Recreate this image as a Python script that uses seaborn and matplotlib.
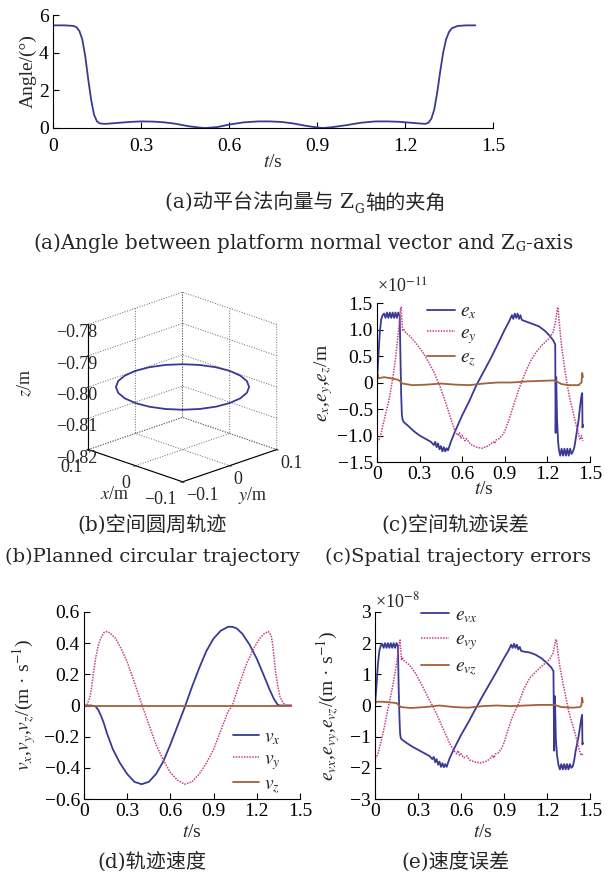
import numpy as np
import pandas as pd
import matplotlib
matplotlib.use("Agg")
import matplotlib.pyplot as plt
import seaborn as sns

# ---- (a) angle between platform normal and Z_G ----
t_a = [0, 0.04, 0.07, 0.08, 0.09, 0.10, 0.11, 0.12, 0.13, 0.14, 0.15, 0.16, 0.18, 0.22,
       0.26, 0.30, 0.34, 0.38, 0.42, 0.46, 0.50, 0.52, 0.56, 0.60, 0.65, 0.70, 0.74, 0.78,
       0.82, 0.86, 0.90, 0.92, 0.95, 1.00, 1.05, 1.10, 1.14, 1.18, 1.22, 1.25, 1.27, 1.28,
       1.29, 1.30, 1.31, 1.32, 1.33, 1.34, 1.35, 1.36, 1.38, 1.41, 1.44]
angle = [5.45, 5.45, 5.42, 5.35, 5.15, 4.7, 3.8, 2.6, 1.5, 0.7, 0.35, 0.24, 0.22, 0.27,
         0.32, 0.35, 0.34, 0.3, 0.22, 0.1, 0.02, 0.0, 0.05, 0.18, 0.3, 0.35, 0.35, 0.32,
         0.24, 0.12, 0.03, 0.0, 0.04, 0.15, 0.28, 0.35, 0.35, 0.33, 0.28, 0.24, 0.22, 0.28,
         0.5, 1.0, 1.9, 3.0, 4.0, 4.7, 5.1, 5.3, 5.42, 5.45, 5.45]

# ---- (b) planned circle ----
circ_x = [0.1, 0.0966, 0.0866, 0.0707, 0.05, 0.0259, 0.0, -0.0259, -0.05, -0.0707, -0.0866,
          -0.0966, -0.1, -0.0966, -0.0866, -0.0707, -0.05, -0.0259, 0.0, 0.0259, 0.05,
          0.0707, 0.0866, 0.0966, 0.1]
circ_y = [0.0, 0.0259, 0.05, 0.0707, 0.0866, 0.0966, 0.1, 0.0966, 0.0866, 0.0707, 0.05,
          0.0259, 0.0, -0.0259, -0.05, -0.0707, -0.0866, -0.0966, -0.1, -0.0966, -0.0866,
          -0.0707, -0.05, -0.0259, 0.0]
circ_z = [-0.80] * 25

# ---- (c) trajectory errors (x1e-11 m) ----
t_ex = [0, 0.01, 0.02, 0.03, 0.04, 0.05, 0.06, 0.07, 0.08, 0.09, 0.10, 0.11, 0.12, 0.13,
        0.14, 0.15, 0.16, 0.165, 0.17, 0.175, 0.18, 0.19, 0.22, 0.26, 0.30, 0.34, 0.38,
        0.40, 0.41, 0.42, 0.43, 0.44, 0.45, 0.46, 0.47, 0.48, 0.49, 0.50, 0.52, 0.55, 0.60,
        0.65, 0.70, 0.75, 0.80, 0.85, 0.90, 0.93, 0.95, 0.96, 0.97, 0.98, 0.99, 1.00, 1.01,
        1.02, 1.04, 1.07, 1.10, 1.14, 1.18, 1.21, 1.24, 1.255, 1.258, 1.262, 1.268, 1.275,
        1.28, 1.29, 1.30, 1.31, 1.32, 1.33, 1.34, 1.35, 1.36, 1.37, 1.38, 1.39, 1.40, 1.42,
        1.43, 1.44, 1.445, 1.447, 1.45]
ex = [0.0, 0.5, 0.95, 1.2, 1.27, 1.3, 1.22, 1.32, 1.22, 1.32, 1.22, 1.32, 1.22, 1.32,
      1.22, 1.32, 1.25, 0.5, -0.2, -0.6, -0.7, -0.75, -0.82, -0.92, -1.0, -1.06, -1.12,
      -1.18, -1.12, -1.22, -1.15, -1.26, -1.2, -1.3, -1.22, -1.3, -1.24, -1.28, -1.12, -0.92,
      -0.62, -0.35, -0.05, 0.2, 0.45, 0.72, 1.0, 1.15, 1.27, 1.2, 1.3, 1.22, 1.3, 1.2, 1.27,
      1.18, 1.16, 1.13, 1.1, 1.06, 0.98, 0.9, 0.8, 0.72, -0.95, 0.1, -0.7, -1.1,
      -1.25, -1.38, -1.25, -1.38, -1.25, -1.38, -1.25, -1.38, -1.25, -1.35, -1.3, -1.22,
      -1.05, -0.7, -0.45, -0.25, -0.2, -0.85, -0.8]
t_ey = [0, 0.01, 0.02, 0.03, 0.04, 0.06, 0.08, 0.09, 0.10, 0.11, 0.12, 0.13, 0.14, 0.15,
        0.16, 0.165, 0.17, 0.175, 0.18, 0.19, 0.20, 0.24, 0.28, 0.32, 0.36, 0.40, 0.44, 0.48,
        0.52, 0.55, 0.57, 0.58, 0.59, 0.60, 0.62, 0.63, 0.66, 0.70, 0.74, 0.78, 0.80, 0.82,
        0.83, 0.84, 0.86, 0.88, 0.90, 0.93, 0.96, 1.00, 1.02, 1.05, 1.08, 1.12, 1.16, 1.20,
        1.22, 1.24, 1.25, 1.26, 1.27, 1.275, 1.28, 1.29, 1.30, 1.32, 1.34, 1.36, 1.38, 1.40,
        1.42, 1.43, 1.44, 1.45]
ey = [-1.12, -1.1, -1.05, -0.95, -0.82, -0.6, -0.38, -0.25, -0.1, 0.07, 0.25, 0.45, 0.7,
      0.95, 1.2, 1.38, 1.42, 1.2, 0.98, 1.0, 0.95, 0.85, 0.72, 0.58, 0.4, 0.2, -0.05, -0.35,
      -0.68, -0.92, -1.0, -0.95, -1.05, -1.0, -1.1, -1.06, -1.17, -1.22, -1.24, -1.2, -1.16,
      -1.12, -1.15, -1.08, -1.06, -1.0, -0.92, -0.7, -0.44, -0.12, 0.02, 0.22, 0.4, 0.57,
      0.7, 0.8, 0.86, 0.95, 1.05, 1.2, 1.4, 1.42, 1.25, 0.95, 0.68, 0.3, -0.05, -0.33,
      -0.55, -0.78, -0.98, -1.08, -1.0, -1.1]
t_ez = [0, 0.005, 0.01, 0.05, 0.10, 0.15, 0.18, 0.25, 0.35, 0.45, 0.55, 0.65, 0.75, 0.85,
        0.95, 1.05, 1.15, 1.25, 1.30, 1.35, 1.42, 1.44, 1.445, 1.45]
ez = [0.02, 0.15, 0.08, 0.1, 0.08, 0.05, -0.02, -0.05, -0.04, -0.02, -0.04, -0.05, -0.02,
      0.0, 0.0, 0.02, 0.03, 0.04, -0.03, -0.05, -0.05, 0.0, 0.18, 0.1]

# ---- (d) trajectory velocity (m/s) ----
t_vx = [0, 0.05, 0.08, 0.10, 0.12, 0.14, 0.16, 0.20, 0.25, 0.30, 0.35, 0.40, 0.45, 0.50,
        0.55, 0.60, 0.65, 0.70, 0.75, 0.80, 0.85, 0.90, 0.95, 1.00, 1.03, 1.06, 1.10, 1.15,
        1.20, 1.25, 1.29, 1.32, 1.345, 1.36, 1.44]
vx = [0, 0, -0.005, -0.03, -0.07, -0.12, -0.18, -0.28, -0.37, -0.44, -0.49, -0.505, -0.49,
      -0.44, -0.36, -0.25, -0.13, -0.01, 0.12, 0.24, 0.35, 0.43, 0.48, 0.505, 0.505, 0.495,
      0.46, 0.39, 0.30, 0.19, 0.10, 0.04, 0.005, 0, 0]
t_vy = [0, 0.02, 0.04, 0.05, 0.065, 0.08, 0.10, 0.12, 0.14, 0.16, 0.18, 0.22, 0.26, 0.30,
        0.35, 0.40, 0.45, 0.50, 0.55, 0.60, 0.65, 0.70, 0.75, 0.80, 0.85, 0.90, 0.95, 1.00,
        1.03, 1.08, 1.13, 1.18, 1.22, 1.25, 1.28, 1.30, 1.31, 1.32, 1.33, 1.345, 1.36, 1.38,
        1.40, 1.44]
vy = [0, 0.005, 0.05, 0.1, 0.2, 0.3, 0.39, 0.44, 0.47, 0.475, 0.465, 0.43, 0.36, 0.28,
      0.15, 0.01, -0.12, -0.25, -0.35, -0.43, -0.48, -0.505, -0.49, -0.44, -0.37, -0.28,
      -0.16, -0.04, 0.0, 0.14, 0.27, 0.37, 0.43, 0.46, 0.475, 0.45, 0.39, 0.31, 0.22, 0.13,
      0.06, 0.02, 0.003, 0]
t_vz = [0, 0.5, 1.0, 1.44]
vz = [0, 0, 0, 0]

# ---- (e) velocity errors (x1e-8 m/s) ----
t_evx = [0, 0.01, 0.02, 0.03, 0.04, 0.05, 0.06, 0.07, 0.08, 0.09, 0.10, 0.11, 0.12, 0.13,
         0.14, 0.15, 0.16, 0.165, 0.17, 0.175, 0.18, 0.19, 0.22, 0.26, 0.30, 0.34, 0.38,
         0.40, 0.41, 0.42, 0.43, 0.44, 0.45, 0.46, 0.47, 0.48, 0.49, 0.50, 0.52, 0.55, 0.60,
         0.65, 0.70, 0.75, 0.80, 0.85, 0.90, 0.93, 0.95, 0.96, 0.97, 0.98, 0.99, 1.00, 1.01,
         1.02, 1.05, 1.08, 1.12, 1.16, 1.20, 1.23, 1.245, 1.25, 1.255, 1.262, 1.27, 1.28,
         1.29, 1.30, 1.31, 1.32, 1.33, 1.34, 1.35, 1.36, 1.37, 1.38, 1.39, 1.40, 1.42, 1.43,
         1.44, 1.445, 1.447, 1.45]
evx = [0.0, 0.6, 1.3, 1.75, 1.92, 1.98, 1.85, 2.0, 1.85, 2.0, 1.85, 2.0, 1.85, 2.0, 1.85,
       2.0, 1.9, 0.6, -0.3, -0.9, -1.05, -1.1, -1.2, -1.32, -1.42, -1.52, -1.62, -1.72,
       -1.65, -1.82, -1.72, -1.9, -1.8, -1.97, -1.85, -1.98, -1.88, -1.97, -1.7, -1.4, -0.95,
       -0.55, -0.12, 0.3, 0.7, 1.1, 1.52, 1.75, 1.95, 1.85, 1.98, 1.85, 1.95, 1.8, 1.88,
       1.75, 1.72, 1.7, 1.63, 1.52, 1.36, 1.22, 1.1, -1.45, 0.3, -1.1, -1.6, -1.9, -2.05,
       -1.88, -2.05, -1.88, -2.05, -1.88, -2.05, -1.88, -2.0, -1.95, -1.75, -1.45, -1.0,
       -0.7, -0.4, -0.3, -1.25, -1.2]
t_evy = [0, 0.01, 0.02, 0.03, 0.04, 0.06, 0.08, 0.10, 0.12, 0.14, 0.15, 0.16, 0.17, 0.175,
         0.18, 0.185, 0.19, 0.20, 0.24, 0.28, 0.32, 0.36, 0.40, 0.44, 0.48, 0.52, 0.55, 0.57,
         0.58, 0.59, 0.60, 0.62, 0.64, 0.66, 0.70, 0.74, 0.78, 0.80, 0.82, 0.83, 0.84, 0.86,
         0.88, 0.90, 0.93, 0.96, 1.00, 1.04, 1.08, 1.12, 1.16, 1.20, 1.22, 1.24, 1.25, 1.26,
         1.265, 1.27, 1.28, 1.29, 1.31, 1.33, 1.35, 1.37, 1.39, 1.41, 1.43, 1.44, 1.45]
evy = [-1.7, -1.66, -1.55, -1.38, -1.2, -0.8, -0.35, 0.1, 0.55, 1.05, 1.35, 1.68, 2.05,
       2.1, 1.8, 1.45, 1.55, 1.45, 1.3, 1.05, 0.72, 0.35, 0.0, -0.38, -0.8, -1.2, -1.45,
       -1.55, -1.45, -1.6, -1.55, -1.68, -1.62, -1.75, -1.82, -1.84, -1.78, -1.72, -1.6,
       -1.68, -1.55, -1.52, -1.4, -1.2, -0.75, -0.35, 0.05, 0.55, 0.88, 1.07, 1.25, 1.4,
       1.5, 1.65, 1.85, 2.1, 2.12, 1.95, 1.55, 1.25, 0.75, 0.3, -0.15, -0.5, -0.8, -1.15,
       -1.5, -1.6, -1.55]
t_evz = [0, 0.01, 0.05, 0.10, 0.15, 0.18, 0.25, 0.35, 0.45, 0.55, 0.65, 0.75, 0.85, 0.95,
         1.05, 1.15, 1.25, 1.30, 1.38, 1.43, 1.44, 1.445, 1.45]
evz = [0.05, 0.12, 0.12, 0.1, 0.08, -0.05, -0.08, -0.05, 0.0, -0.05, -0.07, -0.02, 0.0,
       -0.02, 0.0, 0.02, 0.02, -0.05, -0.07, -0.05, 0.0, 0.25, 0.1]

t_ticks = [0, 0.3, 0.6, 0.9, 1.2, 1.5]
t_labels = ["0", "0.3", "0.6", "0.9", "1.2", "1.5"]

BLUE = "#3a3a96"
MAG = "#c4408a"
BROWN = "#a3603a"
W, H = 610, 877
CAP_FONT = ["DejaVu Serif", "Noto Sans CJK SC"]

sns.set_style("ticks")
plt.rcParams["font.family"] = ["Liberation Serif", "Noto Sans CJK SC"]
plt.rcParams["mathtext.fontset"] = "stix"
plt.rcParams["axes.unicode_minus"] = True

fig = plt.figure(figsize=(W / 100, H / 100), dpi=100)


def box(l, t, r, b):
    # pixel box -> figure fraction
    return [l / W, 1 - b / H, (r - l) / W, (b - t) / H]


def style2d(ax, ylim, yt, ylab, fs=14, xpad=3):
    sns.despine(ax=ax)
    ax.set_xlim(0, 1.5)
    ax.set_ylim(*ylim)
    ax.set_xticks(t_ticks, t_labels)
    ax.set_yticks(yt[0], yt[1])
    ax.tick_params(direction="in", length=4, width=0.8, labelsize=fs, pad=3, colors="black")
    ax.tick_params(axis="x", pad=xpad)
    for s in ("left", "bottom"):
        ax.spines[s].set_color("black")
        ax.spines[s].set_linewidth(0.8)
    ax.set_xlabel(r"$t$/s", fontsize=fs, labelpad=0)
    ax.set_ylabel(ylab, fontsize=fs, labelpad=0)


def line(ax, t, v, color, ls="-", lw=1.3, label=None):
    sns.lineplot(x=t, y=v, ax=ax, color=color, linestyle=ls, linewidth=lw,
                 sort=False, estimator=None, label=label, legend=False)


def caption(x, y, s, fs=14):
    fig.text(x / W, 1 - y / H, s, ha="center", va="center", fontsize=fs, family=CAP_FONT)


# (a)
ax_a = fig.add_axes(box(53, 15, 493, 128))
line(ax_a, t_a, angle, BLUE)
style2d(ax_a, (0, 6), ([0, 2, 4, 6], ["0", "2", "4", "6"]), "Angle/(°)", xpad=7)
ax_a.yaxis.set_label_coords(-0.036, 0.5)
ax_a.xaxis.set_label_coords(0.5, -0.23)

# CJK caption with a subscript G, built from three chained pieces
cap_fs = 14.5
p1 = fig.text(0, 1 - 213 / H, "(a)动平台法向量与 Z", ha="left", va="bottom",
              fontsize=cap_fs, family=CAP_FONT)
p2 = ax_a.annotate("G", xy=(1, 0), xycoords=p1, xytext=(0.3, -2), textcoords="offset points",
                   ha="left", va="bottom", fontsize=cap_fs * 0.6, family=CAP_FONT,
                   annotation_clip=False)
p3 = ax_a.annotate("轴的夹角", xy=(1, 0), xycoords=p2, xytext=(0.5, 2),
                   textcoords="offset points", ha="left", va="bottom", fontsize=cap_fs,
                   family=CAP_FONT, annotation_clip=False)
rend = fig.canvas.get_renderer()
x0 = p1.get_window_extent(rend).x0
x1 = p3.get_window_extent(rend).x1
p1.set_x((305 - (x1 - x0) / 2) / W)

caption(303, 243, "(a)Angle between platform normal vector and Z$_\\mathrm{G}$-axis", fs=14.3)

# (b) 3D circle
ax_b = fig.add_axes(box(55, 278, 304, 502), projection="3d")
ax_b.plot(circ_x, circ_y, circ_z, color=BLUE, lw=1.3)
ax_b.set_proj_type("ortho")
ax_b.view_init(elev=20, azim=-45)
ax_b.set_xlim(0.1, -0.1)
ax_b.set_ylim(-0.1, 0.1)
ax_b.set_zlim(-0.82, -0.78)
ax_b.set_box_aspect((1, 1, 1))
ax_b.set_xticks([-0.1, 0, 0.1], ["−0.1", "0", "0.1"])
ax_b.set_yticks([-0.1, 0, 0.1], ["−0.1", "0", "0.1"])
ax_b.set_zticks([-0.82, -0.81, -0.80, -0.79, -0.78],
                ["−0.82", "−0.81", "−0.80", "−0.79", "−0.78"])
for axis in (ax_b.xaxis, ax_b.yaxis, ax_b.zaxis):
    axis.pane.set_facecolor("none")
    axis.pane.set_edgecolor("none")
    axis._axinfo["grid"].update(color="0.4", linewidth=0.7, linestyle=":")
    axis._axinfo["axisline"]["color"] = "black"
    axis.line.set_color("black")
ax_b.zaxis.set_ticks_position("lower")
ax_b.zaxis.set_label_position("lower")
ax_b.tick_params(labelsize=13, pad=0)
ax_b.tick_params(axis="x", pad=-3)
ax_b.tick_params(axis="y", pad=-5)
ax_b.tick_params(axis="z", pad=-3)
# MATLAB-like alignment: x labels to the left of their ticks, y labels to the right
plt.setp(ax_b.get_xticklabels(), ha="right")
plt.setp(ax_b.get_yticklabels(), ha="left")
fig.text(25 / W, 1 - 383 / H, r"$z$/m", rotation=90, ha="center", va="center", fontsize=13)
fig.text(115 / W, 1 - 494 / H, r"$x$/m", ha="center", va="center", fontsize=13)
fig.text(253 / W, 1 - 495 / H, r"$y$/m", ha="center", va="center", fontsize=13)

caption(152, 525, "(b)空间圆周轨迹", fs=cap_fs)
caption(152, 557, "(b)Planned circular trajectory")

# (c)
ax_c = fig.add_axes(box(377, 303, 590, 462))
line(ax_c, t_ex, ex, BLUE, label=r"$e_x$")
line(ax_c, t_ey, ey, MAG, ls=(0, (1, 0.8)), lw=1.1, label=r"$e_y$")
line(ax_c, t_ez, ez, BROWN, label=r"$e_z$")
style2d(ax_c, (-1.5, 1.5),
        ([-1.5, -1.0, -0.5, 0, 0.5, 1.0, 1.5], ["−1.5", "−1.0", "−0.5", "0", "0.5", "1.0", "1.5"]),
        r"$e_x$,$e_y$,$e_z$/m")
ax_c.yaxis.set_label_coords(-0.197, 0.5)
ax_c.xaxis.set_label_coords(0.5, -0.12)
ax_c.text(0.0, 1.1, r"×10$^{-11}$", transform=ax_c.transAxes, fontsize=13, va="center")
ax_c.legend(loc="upper left", bbox_to_anchor=(0.2, 1.05), frameon=False, fontsize=14,
            handlelength=1.4, handletextpad=0.3, labelspacing=0.18, borderaxespad=0)

caption(455, 525, "(c)空间轨迹误差", fs=cap_fs)
caption(458, 557, "(c)Spatial trajectory errors")

# (d)
ax_d = fig.add_axes(box(84, 612, 300, 799))
line(ax_d, t_vx, vx, BLUE, label=r"$v_x$")
line(ax_d, t_vy, vy, MAG, ls=(0, (1, 0.8)), lw=1.1, label=r"$v_y$")
line(ax_d, t_vz, vz, BROWN, label=r"$v_z$")
style2d(ax_d, (-0.6, 0.6),
        ([-0.6, -0.4, -0.2, 0, 0.2, 0.4, 0.6], ["−0.6", "−0.4", "−0.2", "0", "0.2", "0.4", "0.6"]),
        r"$v_x$,$v_y$,$v_z$/(m · s$^{-1}$)")
ax_d.yaxis.set_label_coords(-0.213, 0.5)
ax_d.xaxis.set_label_coords(0.5, -0.134)
ax_d.legend(loc="upper left", bbox_to_anchor=(0.655, 0.42), frameon=False, fontsize=14,
            handlelength=1.3, handletextpad=0.3, labelspacing=0.2, borderaxespad=0)

caption(152, 862, "(d)轨迹速度", fs=cap_fs)

# (e)
ax_e = fig.add_axes(box(375, 612, 590, 799))
line(ax_e, t_evx, evx, BLUE, label=r"$e_{vx}$")
line(ax_e, t_evy, evy, MAG, ls=(0, (1, 0.8)), lw=1.1, label=r"$e_{vy}$")
line(ax_e, t_evz, evz, BROWN, label=r"$e_{vz}$")
style2d(ax_e, (-3, 3),
        ([-3, -2, -1, 0, 1, 2, 3], ["−3", "−2", "−1", "0", "1", "2", "3"]),
        r"$e_{vx}$,$e_{vy}$,$e_{vz}$/(m · s$^{-1}$)")
ax_e.yaxis.set_label_coords(-0.153, 0.5)
ax_e.xaxis.set_label_coords(0.5, -0.134)
ax_e.text(0.0, 1.055, r"×10$^{-8}$", transform=ax_e.transAxes, fontsize=13, va="center")
ax_e.legend(loc="upper left", bbox_to_anchor=(0.18, 1.07), frameon=False, fontsize=14,
            handlelength=1.4, handletextpad=0.3, labelspacing=0.3, borderaxespad=0)

caption(455, 862, "(e)速度误差", fs=cap_fs)

fig.savefig("out.png", dpi=100)
